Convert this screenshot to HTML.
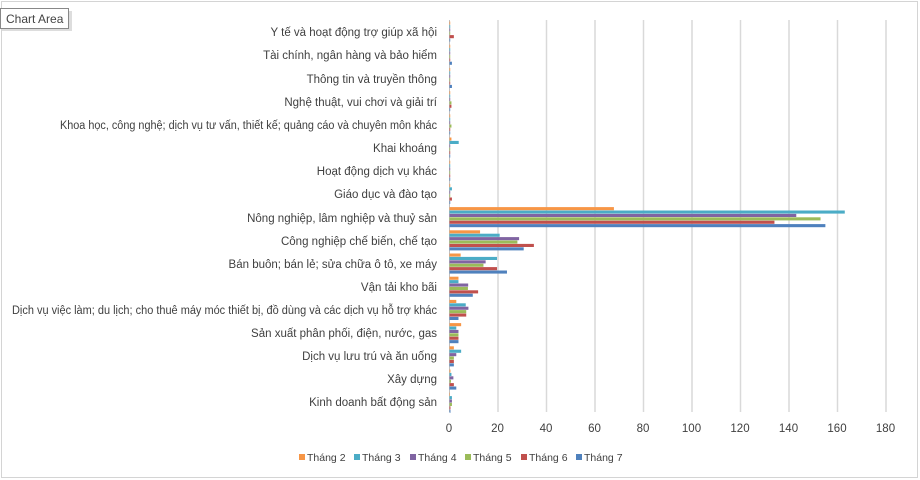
<!DOCTYPE html>
<html><head><meta charset="utf-8"><style>
body{margin:0;background:#fff;}
svg{display:block;font-family:"Liberation Sans","DejaVu Sans",sans-serif;}
</style></head><body>
<svg id="s" width="920" height="480" xmlns="http://www.w3.org/2000/svg">
<rect x="0" y="0" width="920" height="480" fill="#fff"/>
<rect x="1.5" y="1.5" width="916" height="476" fill="none" stroke="#d4d4d4"/>
<g id="grid" stroke="#d9d9d9" stroke-width="1.5"></g>
<line x1="449.5" y1="20" x2="449.5" y2="412" stroke="#bfbfbf"/>
<g id="bars"></g>
<g font-size="11.5" fill="#404040" text-anchor="end">
<text x="437" y="36">Y tế và hoạt động trợ giúp xã hội</text>
<text x="437" y="59">Tài chính, ngân hàng và bảo hiểm</text>
<text x="437" y="83">Thông tin và truyền thông</text>
<text x="437" y="106">Nghệ thuật, vui chơi và giải trí</text>
<text x="437" y="129" textLength="377" lengthAdjust="spacingAndGlyphs">Khoa học, công nghệ; dịch vụ tư vấn, thiết kế; quảng cáo và chuyên môn khác</text>
<text x="437" y="152">Khai khoáng</text>
<text x="437" y="175">Hoạt động dịch vụ khác</text>
<text x="437" y="198">Giáo dục và đào tạo</text>
<text x="437" y="222">Nông nghiệp, lâm nghiệp và thuỷ sản</text>
<text x="437" y="245">Công nghiệp chế biến, chế tạo</text>
<text x="437" y="268">Bán buôn; bán lẻ; sửa chữa ô tô, xe máy</text>
<text x="437" y="291">Vận tải kho bãi</text>
<text x="437" y="314" textLength="425" lengthAdjust="spacingAndGlyphs">Dịch vụ việc làm; du lịch; cho thuê máy móc thiết bị, đồ dùng và các dịch vụ hỗ trợ khác</text>
<text x="437" y="337">Sản xuất phân phối, điện, nước, gas</text>
<text x="437" y="360">Dịch vụ lưu trú và ăn uống</text>
<text x="437" y="383">Xây dựng</text>
<text x="437" y="406">Kinh doanh bất động sản</text>
</g>
<g font-size="11.5" fill="#404040" text-anchor="middle">
<text x="449" y="432">0</text><text x="497.5" y="432">20</text><text x="546" y="432">40</text><text x="594.5" y="432">60</text><text x="643" y="432">80</text><text x="691.5" y="432">100</text><text x="740" y="432">120</text><text x="788.5" y="432">140</text><text x="837" y="432">160</text><text x="885.5" y="432">180</text>
</g>
<g font-size="10.5" fill="#404040">
<rect x="299" y="454" width="6" height="6" fill="#F79646"/><text x="307" y="461">Tháng 2</text>
<rect x="354" y="454" width="6" height="6" fill="#4BACC6"/><text x="362" y="461">Tháng 3</text>
<rect x="410" y="454" width="6" height="6" fill="#8064A2"/><text x="418" y="461">Tháng 4</text>
<rect x="465" y="454" width="6" height="6" fill="#9BBB59"/><text x="473" y="461">Tháng 5</text>
<rect x="521" y="454" width="6" height="6" fill="#C0504D"/><text x="529" y="461">Tháng 6</text>
<rect x="576" y="454" width="6" height="6" fill="#4F81BD"/><text x="584" y="461">Tháng 7</text>
</g>
<rect x="2" y="11" width="70" height="20" fill="#bbb" opacity="0.5"/>
<rect x="0.5" y="8.5" width="68" height="20" fill="#fff" stroke="#888"/>
<text x="6" y="23" font-size="12" fill="#444">Chart Area</text>
</svg>
<script>
var g=document.getElementById('grid'),b=document.getElementById('bars'),ns='http://www.w3.org/2000/svg';
for(var i=1;i<=9;i++){var l=document.createElementNS(ns,'line');var x=449.5+i*48.5;l.setAttribute('x1',x);l.setAttribute('x2',x);l.setAttribute('y1',20);l.setAttribute('y2',412);g.appendChild(l);}
var cols=['#F79646','#4BACC6','#8064A2','#9BBB59','#C0504D','#4F81BD'];
var d=[[0.3,0.3,0.3,0.3,1.8,0.3],[0.3,0.3,0.3,0.3,0.3,1],[0.3,0.3,0.3,0.3,0.3,1],[0.3,0.3,0.3,0.8,0.8,0.3],[0.3,0.3,0.3,0.8,0.3,0.3],[0.8,3.8,0.3,0.3,0.3,0.3],[0.3,0.3,0.3,0.3,0.3,0.3],[0.3,1,0.3,0.3,1,0.3],
[67.8,163,143,153,134,155],[12.6,20.7,28.7,28,34.8,30.6],[4.6,19.6,14.9,14,19.6,23.7],[3.7,3.7,7.7,7.6,11.8,9.6],[2.8,6.7,7.8,6.9,6.9,3.7],[4.8,2.8,3.7,3.7,3.7,3.7],[1.8,4.8,2.8,1.8,1.8,1.8],[0.4,0.8,1.6,0.6,1.8,2.8],[0.2,1,1,1,0.4,0.4]];
for(var c=0;c<d.length;c++){var cy=32+23.2*c;var y0=cy-10.5;
for(var s=0;s<6;s++){var w=d[c][s]*2.425;var r=document.createElementNS(ns,'rect');r.setAttribute('x',449.5);r.setAttribute('y',y0+s*3.4);r.setAttribute('width',w);r.setAttribute('height',3.1);r.setAttribute('fill',cols[s]);b.appendChild(r);}}
</script>
</body></html>
